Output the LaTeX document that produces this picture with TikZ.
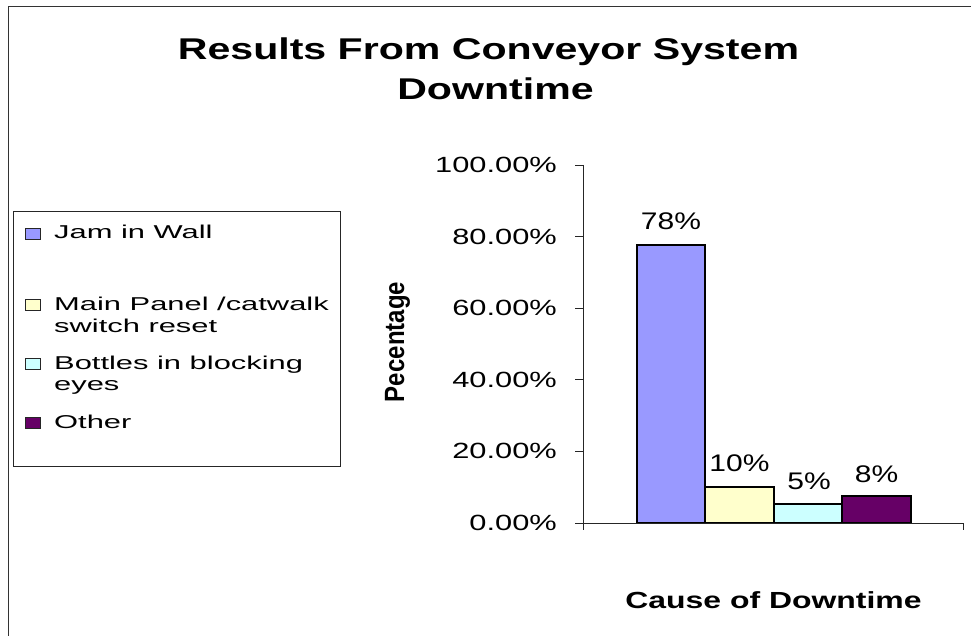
\documentclass[tikz,border=0pt]{standalone}
\usepackage{fontspec}
\setmainfont{Liberation Sans}
\newcommand{\fsz}[2]{\fontsize{#1}{#2}\selectfont}
\definecolor{jam}{HTML}{9999FF}
\definecolor{panel}{HTML}{FFFFCC}
\definecolor{bottles}{HTML}{CCFFFF}
\definecolor{other}{HTML}{660066}
\begin{document}
\begin{tikzpicture}[x=1pt,y=-1pt,
  axis/.style={draw=black!85, line width=0.9pt},
  ticklab/.style={font=\fsz{22}{26}, anchor=east, inner sep=0pt},
  dlabel/.style={font=\fsz{24}{28}, inner sep=0pt},
  leg/.style={font=\fsz{18.6}{22}, anchor=base west, inner sep=0pt},
  legmark/.style={draw=black!85, line width=0.9pt},
  barbox/.style={draw=black, line width=1.3pt},
  ttl/.style={font=\bfseries\fsz{30}{36}, anchor=base, inner sep=0pt}]
\useasboundingbox (0,0) rectangle (971,636);
\fill[white] (0,0) rectangle (971,636);
% outer chart border
\draw[draw=black!80, line width=0.9pt] (8,650) -- (8,6) -- (985,6);
% title
\node[ttl] (t1) at (488.5,60) {\scalebox{1.37}[1]{Results From Conveyor System}};
\node[ttl] (t2) at (495.5,100) {\scalebox{1.37}[1]{Downtime}};
% legend
\draw[legmark] (13,211) rectangle (340,466);
\draw[legmark, fill=jam] (25,228) rectangle (40,239);
\draw[legmark, fill=panel] (25,299) rectangle (40,310);
\draw[legmark, fill=bottles] (25,358) rectangle (40,369);
\draw[legmark, fill=other] (25,417) rectangle (40,428);
\node[leg] (l1) at (54,239) {\scalebox{1.66}[1]{Jam in Wall}};
\node[leg] (l2a) at (54,310) {\scalebox{1.66}[1]{Main Panel /catwalk}};
\node[leg] (l2b) at (54,332) {\scalebox{1.66}[1]{switch reset}};
\node[leg] (l3a) at (54,369) {\scalebox{1.66}[1]{Bottles in blocking}};
\node[leg] (l3b) at (54,390) {\scalebox{1.66}[1]{eyes}};
\node[leg] (l4) at (54,428) {\scalebox{1.66}[1]{Other}};
% bars
\draw[barbox, fill=jam] (637,245) rectangle (705,523);
\draw[barbox, fill=panel] (705,487) rectangle (774,523);
\draw[barbox, fill=bottles] (774,504) rectangle (842,523);
\draw[barbox, fill=other] (842,496) rectangle (911,523);
% axes
\draw[axis] (583,165) -- (583,530);
\draw[axis] (583,523) -- (963,523) -- (963,530);
\foreach \yy/\lab [count=\i] in {165/100.00\%,236.6/80.00\%,308.2/60.00\%,379.8/40.00\%,451.4/20.00\%,523/0.00\%}{
  \draw[axis] (575,\yy) -- (583,\yy);
  \node[ticklab] (tk\i) at (557,\yy) {\scalebox{1.4}[1]{\lab}};
}
% data labels
\node[dlabel] (v1) at (671,221) {\scalebox{1.25}[1]{78\%}};
\node[dlabel] (v2) at (739.5,463.5) {\scalebox{1.25}[1]{10\%}};
\node[dlabel] (v3) at (809,481.5) {\scalebox{1.25}[1]{5\%}};
\node[dlabel] (v4) at (876.5,474.5) {\scalebox{1.25}[1]{8\%}};
% axis titles
\node[font=\bfseries\fsz{24}{28}, rotate=90, anchor=base, inner sep=0pt] (ytitle) at (404,342) {\scalebox{1}[1.16]{Pecentage}};
\node[font=\bfseries\fsz{23.3}{28}, anchor=base, inner sep=0pt] (xtitle) at (773.5,608) {\scalebox{1.37}[1]{Cause of Downtime}};
\end{tikzpicture}
\end{document}
